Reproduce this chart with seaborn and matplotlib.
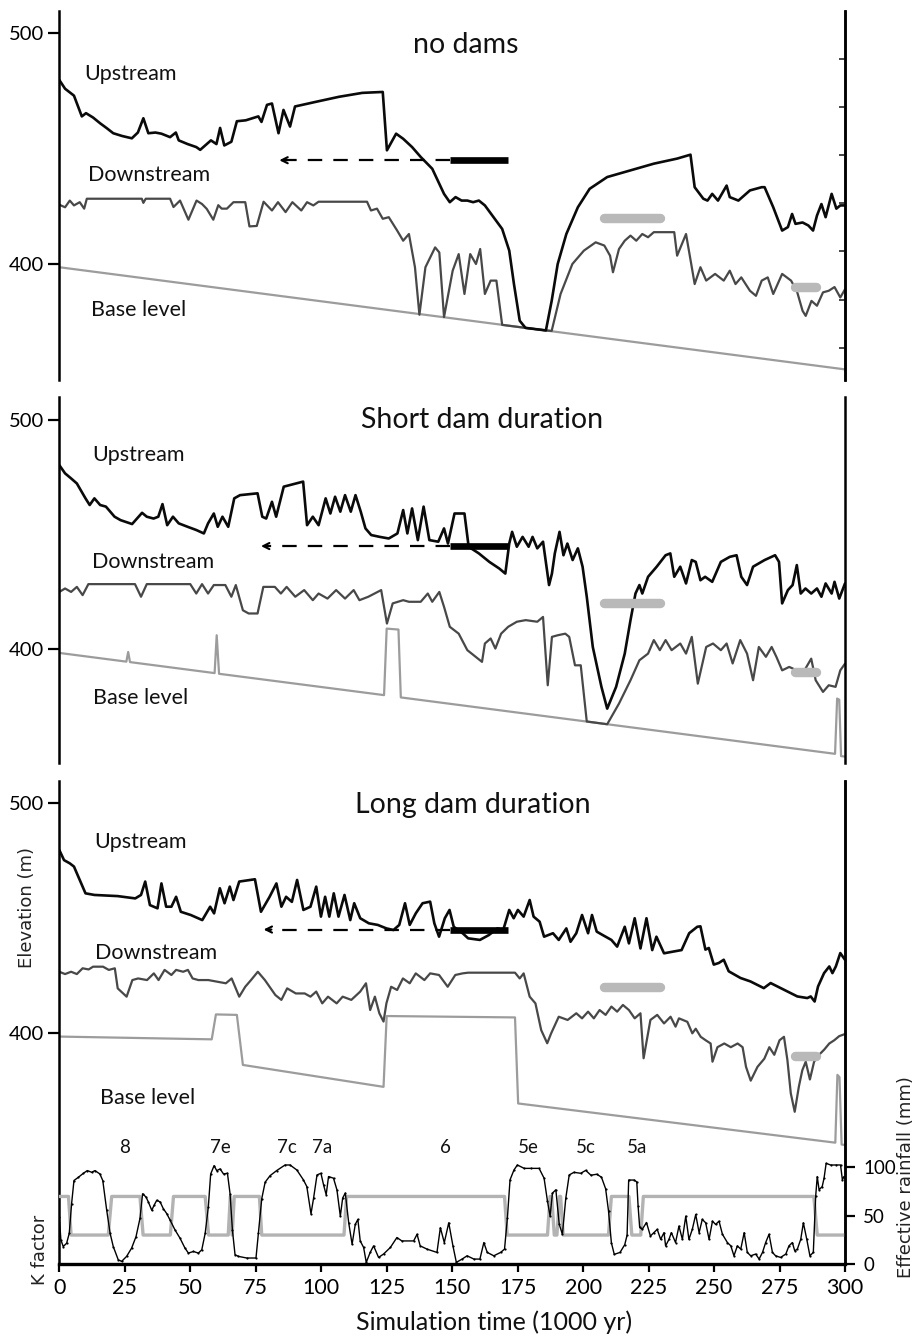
import matplotlib
matplotlib.use("Agg")
import matplotlib.pyplot as plt
import seaborn as sns

# ---------------- data (time in 1000 yr, elevation in m) ----------------
up1_t = [0, 2.2, 5.6, 8.6, 10.2, 12.9, 15.6, 18, 20.6, 24, 27.7, 30, 32.1, 34, 36.7, 39, 42.3, 44.5, 45.6, 49,
         52.3, 53.8, 57.9, 60, 61.4, 63, 65.7, 67.8, 71.2, 76, 77.2, 79.3, 81.2, 83.7, 85.6, 88.1, 90, 97.9,
         106.8, 115.7, 123.5, 125.1, 128.6, 131.3, 134.7, 138, 142.4, 146.9, 149.1, 151.3, 153.6, 155.8, 158,
         160.2, 162.5, 165.8, 169.1, 171.8, 173.6, 175.8, 178, 185.8, 188, 190.3, 193.6, 198, 202.5, 209.2,
         218.1, 227, 235.9, 241, 242.6, 245.9, 247.5, 249.3, 251.5, 254.8, 256, 259.3, 263.7, 268.2, 269.3,
         272.6, 276, 278.2, 279.8, 281.1, 283.8, 286, 287.8, 289.3, 291, 292.6, 294.9, 296.7, 298.2, 300]
up1_e = [479.8, 476, 473, 464, 465.4, 463.5, 461, 459, 456.7, 455.5, 454.5, 457, 463.2, 456.7, 457, 456.5, 455,
         457, 453.6, 452, 450.7, 449.5, 453.6, 452, 459, 451.4, 453, 461.9, 462.3, 464, 461.6, 469, 469.6,
         456.7, 466.8, 459.6, 468.3, 470.3, 472.5, 474.2, 474.6, 449.3, 456.5, 454.3, 450.7, 446.4, 441.3,
         430.4, 426.8, 429, 427.5, 427.5, 426.8, 427.5, 425.4, 420.3, 415.2, 405.8, 391.3, 375.4, 372.3,
         371.2, 384, 400, 413, 424.6, 432.6, 437.7, 440.6, 443.5, 445.7, 447.4, 433.3, 428.3, 427.5, 430.4,
         427.5, 434, 429, 427.5, 431.9, 433.3, 433.3, 424.6, 414.5, 416, 421.7, 417.4, 418, 416.7, 414.5, 421,
         426, 420.3, 430.4, 424, 425.4, 425.4]

dn1_t = [0, 2.2, 4, 5.6, 7.8, 9.5, 10.5, 31.5, 32.1, 33, 42.3, 43.6, 46.1, 49.3, 52.4, 54.5, 56.3, 58.8, 60.7,
         62, 64, 66.5, 71, 72.6, 75.4, 78, 81.2, 83.5, 86.4, 89, 92.4, 94.6, 97, 99, 117.5, 119, 121.3, 123.5,
         125.8, 129, 131.3, 133.5, 135.8, 137.5, 139.8, 143.5, 145.1, 146.9, 150.2, 152.5, 154.7, 156.9, 159.1,
         160.7, 162.5, 164.7, 166.9, 169.1, 178, 185.8, 188, 191.4, 195.9, 200.3, 204.8, 208.1, 210.3, 211.4,
         213.7, 215.9, 218.1, 220.3, 222.6, 224.8, 227, 234.8, 235.9, 239.3, 241.5, 242.6, 244.8, 247, 250.4,
         253.7, 256, 258.2, 260.4, 263.7, 266, 268.2, 270.5, 272.6, 276, 279.4, 281.6, 283.8, 285, 287.2,
         289.3, 291.6, 293.8, 296, 298.2, 300]
dn1_e = [425.7, 424.6, 427.5, 425.4, 426.8, 424, 428.3, 428.3, 426.5, 428.3, 428.3, 424.7, 427.5, 419.2, 427.5,
         426, 423.9, 419.2, 425.5, 424, 424, 426.8, 426.8, 416.3, 416.5, 427, 423.2, 426.8, 422.5, 426.8, 423.2,
         426.8, 425.4, 427, 427, 423.2, 424, 419.6, 420.3, 414.5, 410.1, 413, 398.6, 378, 398.6, 407.2, 405,
         377, 397.1, 404.3, 387, 404.3, 400, 406.5, 387, 392.8, 392.8, 373.6, 372.3, 371.2, 371, 387, 400,
         405.8, 409.4, 408, 403.6, 396.4, 406.5, 410.1, 412.3, 410.1, 413, 411.6, 413.8, 413.8, 403.6, 413,
         398.6, 391.3, 398.6, 392.8, 395.7, 392.8, 397.1, 391.3, 394.2, 388.4, 386.2, 392.8, 394.2, 387, 395.7,
         392.8, 388.4, 379.7, 377.5, 384, 381.9, 387.7, 388.4, 390, 385.5, 389]

base1_t = [0, 300]
base1_e = [398.6, 354.3]

up2_t = [0, 2.2, 4.5, 6.7, 10, 11.6, 13.4, 15.6, 17.8, 21.1, 23.4, 27.8, 31.6, 33.4, 36, 37.8, 39.4, 41.2, 43.4,
         45.6, 49, 52.3, 55.2, 56.8, 59, 60.5, 62.3, 64.5, 66.8, 69, 75.7, 77.5, 79, 81.2, 82.8, 85.7, 93.1,
         94.6, 96.8, 99, 101.7, 103.5, 105.3, 107.3, 109.1, 111.3, 113.1, 115.1, 116.9, 119.1, 122.4, 125.8,
         129.1, 131.3, 132.9, 134.7, 136.9, 139.1, 141.3, 144.7, 146.9, 148.4, 150.9, 154.7, 156.3, 160.2,
         164.2, 168, 170.3, 171.8, 172.9, 174.7, 176.9, 179.2, 180.7, 182.5, 184.7, 187, 188.1, 189.2, 191,
         192.5, 194, 196, 198, 199.8, 201.4, 203.7, 207, 209.2, 212.6, 215.9, 218.1, 220, 221.5, 222.6, 224.8,
         228.1, 231.5, 233.3, 234.8, 237.1, 239.3, 241.5, 243, 244.8, 246.6, 249.3, 252.6, 256, 258.6, 260.4,
         262.6, 264.9, 269.3, 273.3, 274.8, 276, 278.2, 280, 281.6, 283.1, 284.9, 287.1, 289.3, 291, 292.6,
         294.9, 296, 297.8, 300]
up2_e = [480.3, 476.7, 474.5, 472.3, 465.8, 462.9, 465.8, 462.9, 462.2, 457.8, 456.3, 454.6, 459.5, 457.8, 457,
         457.8, 463.3, 454.1, 457.8, 454.9, 453.4, 452, 450.5, 454.9, 459.2, 453.4, 457.8, 453.4, 465.8, 467.2,
         468, 457.8, 457, 464.3, 457.8, 470.9, 473.1, 454.1, 457.8, 454.1, 465.8, 459.2, 466.5, 460, 467.2, 460,
         467.2, 460, 452.7, 449.8, 449, 448.3, 450.5, 460.7, 450.5, 461.4, 447.6, 462.2, 447.6, 446.9, 452.7,
         446.1, 459.2, 459.2, 444.7, 441.8, 438.1, 435.2, 433, 446.1, 451.2, 444.7, 449, 444.7, 449, 444,
         446.9, 428, 433, 441.8, 451.2, 441, 446.1, 438.9, 444, 436, 422.9, 401, 383.6, 374.1, 383.6, 398.1,
         412.7, 424.3, 428, 424.3, 431.6, 436, 441, 441.8, 431.6, 436, 428.7, 438.9, 438.1, 430.1, 431.6,
         429.4, 438.1, 440.3, 441, 431.6, 428, 436, 438.9, 441, 438.1, 420, 425.8, 428, 436.7, 424.3, 426.5,
         424.3, 426.5, 422.9, 428.7, 424.3, 429.4, 422.1, 428.7]

dn2_t = [0, 2.2, 4.5, 6.7, 8.9, 11.1, 28.9, 31.2, 33.4, 50, 52.3, 54.5, 56.8, 59, 63.4, 65.7, 67.4, 70.1, 72.3,
         75.7, 77.9, 82.3, 84.6, 86.8, 90.1, 93.5, 96.8, 99, 102.4, 105.7, 109.1, 112.4, 114.6, 118, 122.9,
         125.1, 127.3, 131.3, 133.5, 138, 140.7, 142.4, 145.1, 146.9, 149.1, 152.5, 155.8, 161.4, 162.5, 164.7,
         166.5, 168.7, 171.4, 174.7, 178.1, 182.5, 184.7, 186.5, 188.1, 190.3, 193.2, 194.7, 196.9, 199.1,
         201.4, 209.2, 213.7, 218.1, 221.5, 224.8, 227, 229.3, 231.5, 233.8, 237.1, 239.3, 241.5, 243.8, 247,
         249.6, 252.6, 254.8, 257.1, 260, 262.6, 264.9, 267.1, 269.8, 272, 273.8, 276, 278.7, 281.6, 283.8,
         287.1, 288.8, 291.6, 293.8, 296.4, 298.2, 300]
dn2_e = [425, 426.5, 425, 427.2, 423.6, 428.4, 428.4, 422.9, 428.4, 428.4, 424.3, 428.4, 424.3, 428, 428, 422.9,
         428, 417, 415.6, 415.6, 427.2, 427.2, 424.3, 427.2, 422.9, 425.8, 421.4, 424.3, 422.1, 425.8, 422.1,
         425.8, 421.4, 422.9, 425.8, 411.2, 420, 421.4, 420.7, 420.7, 424.3, 420.7, 425, 418.5, 409.8, 406.8,
         399.6, 394.5, 402.5, 404.7, 400.3, 406.8, 409.8, 412, 412.7, 412, 414.1, 384.3, 405.4, 406.1, 406.8,
         405.4, 393, 393, 368.5, 367.3, 376.3, 386.5, 395.2, 398.1, 404, 399.6, 404, 399.6, 402.5, 398.1, 405.4,
         385, 401, 402.5, 399.6, 402.5, 393.8, 404, 398.1, 386.5, 401, 396.7, 401, 396.7, 390.8, 392.3, 390.8,
         389.4, 395.9, 386.5, 381.4, 384.3, 383.6, 390.8, 393.7]

base2_t = [0, 25.6, 26.3, 27.0, 59.3, 60.1, 61.0, 124.0, 125.0, 129.5, 130.4, 296.2, 297.0, 297.8, 298.5, 300]
base2_e = [398.4, 394.6, 398.8, 394.4, 389.6, 406.1, 389.3, 380.0, 409.0, 408.6, 379.0, 354.4, 378.5, 378.0,
           353.4, 353.2]

up3_t = [0, 1.8, 4, 5.6, 7.8, 10, 13.4, 22.3, 29, 31.2, 32.8, 34.6, 37.5, 39, 40.8, 42.8, 44.6, 46.4, 50.2,
         54.6, 57.6, 59.1, 61.3, 63.1, 65.1, 66.5, 68.7, 74.7, 77, 80.3, 82.9, 84.8, 86.6, 88.8, 90.8, 93.2,
         95.9, 98.1, 99.9, 101.5, 103.1, 104.8, 106.6, 108.9, 111.1, 112.6, 114.9, 118.2, 121.6, 124.9, 127.6,
         129.8, 132, 133.8, 136.1, 138.7, 141.6, 143.2, 145, 147.2, 149, 150.6, 154, 156.1, 160.6, 164, 167.3,
         169.5, 171.8, 173.5, 175.1, 177.3, 179.6, 181.1, 183.4, 185.1, 188.5, 190.7, 193.6, 195.2, 197.4,
         199.6, 201.9, 203.4, 205.2, 207.5, 210.8, 213, 215.9, 217.5, 219.7, 221.9, 224.2, 226.4, 228, 230.9,
         234.2, 237.6, 240.5, 243.6, 244.8, 246.7, 248, 249.9, 251.8, 253.7, 255.6, 260.1, 263.9, 269, 271.6,
         276.7, 281.8, 285.6, 286.9, 288.4, 289.7, 292, 294, 295.2, 296.5, 298.2, 300]
up3_e = [479.5, 475.1, 473.7, 472.3, 466.5, 460.7, 460, 459.5, 458.5, 460, 465.8, 455.6, 454.2, 465, 454.9, 454.9,
         459.2, 452.7, 451.3, 449.1, 454.9, 452, 462.9, 456.4, 463.6, 457.8, 465.8, 466.8, 452.7, 459.2, 465,
         454.9, 459.2, 457, 466.5, 453.5, 454.9, 463.6, 450.6, 459.2, 450.6, 460.7, 450.6, 460, 449.1, 456.4,
         449.9, 447.7, 447, 445.5, 444.8, 447, 456.4, 447, 452, 456.4, 457.1, 447.7, 441.9, 449.9, 453.5, 446.2,
         443.4, 441.2, 440.5, 442.6, 445.5, 444.8, 453.5, 449.9, 453.5, 450.6, 457.8, 450.6, 448.4, 441.9,
         443.4, 440.5, 445.5, 439.7, 443.4, 451.3, 443.4, 451.3, 444.1, 442.6, 440.5, 437.6, 446.2, 439, 449.9,
         436.8, 449.9, 436.1, 441.9, 434.7, 435.4, 436.1, 443.4, 446.2, 446.4, 436.3, 437, 429.8, 430.5, 431.9,
         426.9, 424, 422.5, 419.6, 421.8, 418.9, 416, 415.3, 416, 413.8, 420.3, 426.1, 429, 426.1, 429, 434.8,
         431.9]

dn3_t = [0, 2.2, 4.5, 6.7, 8.9, 11.2, 12.9, 16.7, 18.9, 21.2, 22.3, 25.7, 27.9, 30.1, 33.5, 36.1, 37.9, 40.2,
         42.8, 44.6, 47.3, 49.1, 50.9, 53.1, 56.9, 60.2, 63.6, 65.8, 68.7, 71, 73.2, 75.8, 78.5, 80.3, 82.5,
         84.8, 87, 90.3, 93.7, 95.9, 98.1, 100.4, 102.6, 105.9, 108.2, 111.5, 114.9, 117.1, 118.7, 120.5, 122.2,
         123.8, 124.9, 126.7, 129, 131.2, 133.8, 136.1, 139.4, 141.6, 145, 148.3, 151.2, 154, 156.1, 174, 175.8,
         177.3, 179.6, 181.8, 184, 186.3, 187.8, 190.7, 194.1, 197.4, 199.6, 201.9, 204.1, 206.3, 208.6, 210.8,
         213, 215.2, 217.5, 219.7, 221.9, 223.1, 225.7, 228.3, 230.9, 233.4, 235.3, 236.6, 239.8, 241.7, 243,
         244.9, 246.8, 248.7, 249.4, 251.3, 253.9, 256.4, 259, 260.9, 262.2, 264, 266.6, 269.2, 271.1, 273, 275,
         276.7, 278, 279.3, 280.8, 282.4, 283.7, 285, 286.6, 288.2, 290.1, 292.1, 294, 295.9, 297.8, 300]
dn3_e = [426.7, 425.7, 426.7, 425.7, 428.2, 427.7, 428.9, 428.9, 427.5, 428.2, 419.5, 415.9, 423.1, 423.8, 423.1,
         426, 423.1, 427.5, 425.3, 427.5, 426.7, 427.5, 423.8, 423.1, 423.1, 422.4, 421.7, 423.8, 415.9, 420.2,
         423.1, 426.7, 423.1, 420.2, 416.6, 414.5, 419.5, 417.3, 417.3, 415.9, 418.1, 413, 415.9, 413, 415.9,
         414.5, 418.1, 421.7, 410.1, 415.9, 408.7, 405.1, 413, 420.2, 418.8, 423.8, 421.7, 426, 423.1, 426,
         425.3, 420.2, 425.3, 426, 426.3, 426.3, 423.8, 426, 415.9, 413, 401.4, 395.7, 400, 407.2, 405.8, 408.7,
         406.5, 409.4, 406.5, 410.1, 408, 411.6, 409.4, 412.3, 410.1, 406.5, 408.7, 389.2, 405.8, 408, 404.3,
         407.2, 402.9, 406.5, 405, 400, 402, 398.5, 397, 395.6, 387.7, 394, 395.6, 394, 395.6, 394, 385.5,
         379.5, 385.5, 389, 394, 390.7, 397, 398.5, 388.5, 374, 366, 377, 384, 387.7, 380, 387.7, 390.7, 393,
         395.6, 397, 398.8, 399.7]

base3_t = [0, 58.2, 59.8, 67.8, 70.1, 123.8, 125.0, 174.0, 175.2, 296.3, 297.1, 297.9, 298.7, 300]
base3_e = [398.6, 397.4, 408.2, 408.0, 386.3, 376.8, 407.5, 406.9, 369.6, 352.6, 382.0, 381.0, 351.8, 351.6]

# effective rainfall (mm) and K factor (drawn on the rainfall scale)
rain_t = [0, 0.6, 1.5, 2.8, 3.8, 4.7, 5.6, 7.3, 9.2, 10.7, 12.4, 13.6, 15.5, 16.6, 18.1, 19.4, 20.6, 22.5, 23.8,
          25.7, 27.6, 29.3, 30.8, 31.8, 33.1, 34, 35.3, 36.2, 37.2, 38.5, 39.7, 41, 42.3, 44.2, 46.1, 48, 49.3,
          51.2, 53.1, 54.4, 55.7, 56.9, 57.8, 59.1, 60.1, 61.4, 62.7, 64.2, 65.2, 66.1, 67.1, 68.4, 71.6, 75.1,
          76, 77.3, 78.6, 80.5, 83, 86.2, 88.1, 90.7, 93.2, 94.5, 96.1, 97.1, 98.4, 99.9, 100.9, 101.9, 102.8,
          104.7, 106, 107.3, 108.2, 109.2, 110.5, 111.8, 113, 114, 114.9, 116.2, 117.2, 118.7, 120, 121.9, 123.8,
          126.4, 128.9, 130.8, 135.3, 136.6, 137.8, 140.4, 144.2, 145.5, 147, 148.7, 150.3, 151.6, 153.8, 155.7,
          158.3, 160.6, 162.1, 163.4, 165.9, 168.5, 170, 171.1, 172.1, 173.6, 174.9, 177.5, 180, 183.2, 185.1,
          186.4, 187.4, 188.3, 189.6, 190.9, 192.1, 193.4, 194.7, 196.5, 199.1, 201, 203, 205.2, 207, 208.6,
          209.7, 210.8, 211.9, 214.1, 215.9, 216.8, 217.4, 219.5, 220.5, 221, 221.6, 222.6, 224.2, 225.7, 227,
          228.3, 229.6, 230.9, 231.5, 232.8, 233.7, 235.3, 236.6, 237.9, 239.2, 240.4, 241.7, 243, 244.3, 245.5,
          246.8, 248.1, 249.4, 250.6, 251.9, 253.2, 255.1, 256.4, 257.6, 258.9, 260.2, 261.5, 262.7, 264, 265.9,
          267.2, 268.5, 269.7, 271, 272.3, 273.5, 275.4, 277.4, 278.6, 279.9, 280.8, 281.8, 283.1, 284.1, 285.4,
          286.6, 287.9, 288.8, 289.4, 290.1, 291.3, 292, 292.8, 294.5, 296.4, 298.3, 299, 299.6]
rain_v = [48.9, 25, 18.1, 21.5, 31.8, 62.6, 86.5, 89.9, 94, 96.8, 95, 96.8, 93.3, 86.5, 55.7, 31.8, 18.1, 4.4, 2.7,
          7.9, 16.4, 28.4, 47.2, 72.8, 69.4, 64.3, 55.7, 60.9, 66, 64.3, 57.4, 52.3, 45.5, 35.2, 26.7, 16.4, 11.3,
          13, 11.3, 14.7, 31.8, 59.1, 93.3, 101.9, 96.8, 98.5, 93.3, 94, 72.8, 35.2, 9.6, 7.9, 6.2, 6.2, 31.8,
          67.7, 84.8, 91.6, 96.8, 102.6, 102.6, 97.4, 87.2, 80.3, 52, 68.4, 92.3, 94, 82, 71.8, 90.6, 88.9, 76.9,
          49.6, 68.4, 73.5, 42.7, 20.5, 41, 46.2, 23.9, 17.1, 1.7, 12, 18.8, 6.8, 10.3, 17.1, 27.4, 23.9, 23.9,
          30.8, 18.8, 15.4, 12, 37.6, 22.2, 42.7, 18.8, 1.7, 5.1, 8.5, 5.1, 5.1, 22.2, 12, 8.5, 12, 15.4, 47.9,
          87.2, 97.4, 102.6, 99.1, 99.1, 99.1, 88.9, 65, 49.6, 73.5, 76.9, 41, 30.8, 68.4, 92.3, 95, 94, 97, 92,
          93, 90, 78, 55, 22, 10, 12, 20, 30, 87, 87, 85, 60, 38, 36, 43, 29, 32.5, 35.9, 25.6, 32.5, 18.8, 25.6,
          32.5, 22.2, 39.3, 25.6, 49.6, 25.6, 35.9, 51.3, 32.5, 46.2, 42.7, 25.6, 44.4, 41, 44.4, 30.8, 22.2,
          18.8, 8.5, 18.8, 15.4, 32.5, 12, 8.5, 10.3, 5.1, 12, 22.2, 30.8, 12, 8.5, 6.8, 10.3, 18.8, 22.2, 13.7,
          15.4, 25.6, 42.7, 25.6, 8.5, 12, 70.1, 90.6, 76.9, 80.3, 88.9, 104.3, 102.6, 102.6, 102.6, 87.2, 90.6]

k_t = [0, 3.5, 4.5, 18.7, 20, 30.8, 32, 42.4, 43.6, 55.7, 57, 64.5, 65.3, 66, 66.8, 76.4, 77.3, 108.7, 109.7,
       170, 171, 186.4, 187.4, 188, 189, 190, 191, 191.4, 192.4, 209.7, 210.8, 217.5, 218.6, 222, 223, 288.1,
       289.4, 300]
k_v = [70, 70, 30, 30, 70, 70, 30, 30, 70, 70, 30, 30, 70, 30, 70, 70, 30, 30, 70, 70, 30, 30, 70, 70, 30, 30,
       70, 70, 30, 30, 70, 70, 30, 30, 70, 70, 30, 30]

stage_labels = ["8", "7e", "7c", "7a", "6", "5e", "5c", "5a"]
stage_t = [25, 61.5, 87, 100.5, 147.5, 179, 201, 220.5]

titles = ["no dams", "Short dam duration", "Long dam duration"]
arrow_head_t = [84, 77, 78]
arrow_bar_t = [149, 171.5]
arrow_e = 445
gray_bar_t = [208, 229.5]
gray_bar_e = 420
small_bar_t = [281, 289]
small_bar_e = 390

# ---------------- style ----------------
sns.set_style("white")
plt.rcParams['font.family'] = ['Lato', 'DejaVu Sans']

W, H = 917, 1341
fig = plt.figure(figsize=(W / 100, H / 100), dpi=100)


def px_axes(left, top, right, bottom):
    return fig.add_axes([left / W, 1 - bottom / H, (right - left) / W, (bottom - top) / H])


ax1 = px_axes(59.3, 11, 845, 380)
ax2 = px_axes(59.3, 397, 845, 763)
ax3 = px_axes(59.3, 781, 845, 1264)
axes = [ax1, ax2, ax3]

C_UP = '#0a0a0a'
C_DN = '#484848'
C_BASE = '#9c9c9c'
C_K = '#b3b3b3'
C_BAR = '#b9b9b9'


def line(ax, t, v, color, lw, **kw):
    sns.lineplot(x=t, y=v, ax=ax, color=color, linewidth=lw, sort=False,
                 estimator=None, legend=False, **kw)


series = [(up1_t, up1_e, dn1_t, dn1_e, base1_t, base1_e),
          (up2_t, up2_e, dn2_t, dn2_e, base2_t, base2_e),
          (up3_t, up3_e, dn3_t, dn3_e, base3_t, base3_e)]

ylims = [(349.7, 509.7), (350.4, 510), (300, 509.4)]
lab_pos = [((9.4, 482.4), (11.0, 438.7), (12.1, 380.2)),
           ((12.5, 484.7), (12.5, 438.2), (12.9, 378.8)),
           ((13.2, 483.1), (13.6, 434.8), (15.4, 372.0))]
title_pos = [(155.2, 494.9), (161.5, 500), (157.9, 499)]

for i, ax in enumerate(axes):
    ut, ue, dt, de, bt, be = series[i]
    line(ax, bt, be, C_BASE, 1.6)
    line(ax, dt, de, C_DN, 1.6)
    line(ax, ut, ue, C_UP, 1.9)
    # dashed arrow + thick bar
    line(ax, [arrow_bar_t[0], arrow_head_t[i] + 1.5], [arrow_e, arrow_e], 'black', 1.6,
         linestyle=(0, (6.5, 5)))
    ax.annotate('', xy=(arrow_head_t[i], arrow_e), xytext=(arrow_head_t[i] + 3, arrow_e),
                arrowprops=dict(arrowstyle='->', color='black', lw=1.5, mutation_scale=11,
                                shrinkA=0, shrinkB=0))
    line(ax, arrow_bar_t, [arrow_e, arrow_e], 'black', 4.8, solid_capstyle='butt')
    line(ax, gray_bar_t, [gray_bar_e, gray_bar_e], C_BAR, 6.8, solid_capstyle='round')
    line(ax, small_bar_t, [small_bar_e, small_bar_e], C_BAR, 6.8, solid_capstyle='round')

    ax.set_xlim(0, 300)
    ax.set_ylim(*ylims[i])
    ax.set_xlabel('')
    ax.set_ylabel('')
    ax.set_yticks([400, 500])
    ax.set_yticklabels(['400', '500'])
    ax.tick_params(axis='y', left=True, direction='out', length=8, width=1.6, labelsize=14.5,
                   pad=3, colors='black')
    for s in ['left', 'right']:
        ax.spines[s].set_visible(True)
        ax.spines[s].set_linewidth(1.8)
        ax.spines[s].set_color('black')
    ax.spines['top'].set_visible(False)
    ax.spines['bottom'].set_visible(i == 2)

    (u, d, b) = lab_pos[i]
    ax.text(u[0], u[1], 'Upstream', fontsize=15.5, ha='left', va='center', color='#111')
    ax.text(d[0], d[1], 'Downstream', fontsize=15.5, ha='left', va='center', color='#111')
    ax.text(b[0], b[1], 'Base level', fontsize=15.5, ha='left', va='center', color='#111')
    ax.text(title_pos[i][0], title_pos[i][1], titles[i], fontsize=20.5, ha='center',
            va='center', color='#111')

ax1.set_xticks([])
ax2.set_xticks([])

# inner ticks on right spine of the first panel
ax1r = ax1.twinx()
ax1r.set_ylim(*ylims[0])
ax1r.set_yticks([363.7 + 20.9 * k for k in range(7)])
ax1r.tick_params(axis='y', right=True, direction='in', length=4, width=1.2, labelright=False)
for s in ['left', 'top', 'bottom']:
    ax1r.spines[s].set_visible(False)
ax1r.spines['right'].set_linewidth(1.8)
ax1r.spines['right'].set_color('black')
ax1r.grid(False)

# bottom axis of panel 3
ax3.spines['bottom'].set_linewidth(2.4)
ax3.spines['bottom'].set_color('black')
ax3.set_xticks(list(range(0, 301, 25)))
ax3.set_xticklabels([str(v) for v in range(0, 301, 25)])
ax3.tick_params(axis='x', bottom=True, direction='out', length=6, width=1.6, labelsize=15.5,
                pad=4, colors='black')

# rainfall twin axis
ax3r = ax3.twinx()
line(ax3r, k_t, k_v, C_K, 2.4)
line(ax3r, rain_t, rain_v, 'black', 1.0, marker='o', markersize=1.6, markeredgewidth=0)
ax3r.set_xlim(0, 300)
ax3r.set_ylim(0, 500.5)
ax3r.set_yticks([0, 50, 100])
ax3r.set_yticklabels(['0', '50', '100'])
ax3r.set_ylabel('')
ax3r.tick_params(axis='y', right=True, direction='out', length=7, width=1.6, labelsize=13.5,
                 pad=6, colors='black')
for s in ['left', 'top', 'bottom']:
    ax3r.spines[s].set_visible(False)
ax3r.spines['right'].set_linewidth(1.8)
ax3r.spines['right'].set_color('black')
ax3r.grid(False)
for lab, t in zip(stage_labels, stage_t):
    ax3r.text(t, 121, lab, fontsize=13.5, ha='center', va='center', color='#111')

# axis titles
fig.text(27 / W, 1 - 908 / H, 'Elevation (m)', rotation=90, ha='center', va='center',
         fontsize=13, family='DejaVu Sans', color='#222')
fig.text(40 / W, 1 - 1250 / H, 'K factor', rotation=90, ha='center', va='center',
         fontsize=13, family='DejaVu Sans', color='#222')
fig.text(906 / W, 1 - 1177 / H, 'Effective rainfall (mm)', rotation=90, ha='center',
         va='center', fontsize=13, family='DejaVu Sans', color='#222')
fig.text(494 / W, 1 - 1322 / H, 'Simulation time (1000 yr)', ha='center', va='center',
         fontsize=18, color='#111')

fig.savefig('out.png', dpi=100)
